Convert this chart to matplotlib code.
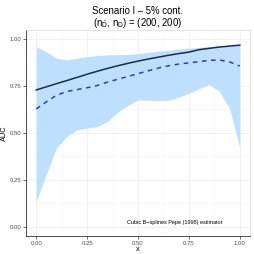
import matplotlib
matplotlib.use("Agg")
import matplotlib.pyplot as plt
import numpy as np

# значения
x_grid = [0.00, 0.05, 0.10, 0.15, 0.20, 0.25, 0.30, 0.35, 0.40, 0.45, 0.50,
          0.55, 0.60, 0.65, 0.70, 0.75, 0.80, 0.85, 0.90, 0.95, 1.00]
auc_true = [0.728, 0.745, 0.762, 0.778, 0.795, 0.812, 0.828, 0.843, 0.857, 0.870, 0.882,
            0.893, 0.903, 0.913, 0.922, 0.930, 0.943, 0.950, 0.957, 0.962, 0.967]
auc_est = [0.627, 0.665, 0.700, 0.720, 0.730, 0.740, 0.752, 0.770, 0.785, 0.800, 0.815,
           0.830, 0.845, 0.857, 0.866, 0.873, 0.879, 0.886, 0.888, 0.878, 0.856]
band_upper = [0.959, 0.932, 0.897, 0.888, 0.897, 0.906, 0.912, 0.915, 0.917, 0.918, 0.922,
              0.928, 0.935, 0.940, 0.946, 0.951, 0.955, 0.960, 0.963, 0.968, 0.972]
band_lower = [0.133, 0.280, 0.420, 0.480, 0.515, 0.525, 0.533, 0.560, 0.610, 0.645, 0.675,
              0.672, 0.671, 0.673, 0.690, 0.710, 0.735, 0.758, 0.720, 0.630, 0.420]
ticks = [0.00, 0.25, 0.50, 0.75, 1.00]
tick_labels = ["0.00", "0.25", "0.50", "0.75", "1.00"]

plt.rcParams["font.family"] = ["Liberation Sans", "DejaVu Sans"]
plt.rcParams["mathtext.default"] = "regular"

fig = plt.figure(figsize=(2.54, 2.54), dpi=100)
ax = fig.add_axes([0.1024, 0.071, 0.8816, 0.8125])

ax.fill_between(x_grid, band_lower, band_upper, color="#BFDFFF", linewidth=0)
ax.plot(x_grid, auc_true, color="#1C2B48", linewidth=1.1)
ax.plot(x_grid, auc_est, color="#2A3EBE", linewidth=1.1, linestyle=(0, (3, 3)))

ax.set_xlim(-0.05, 1.05)
ax.set_ylim(-0.05, 1.05)
ax.set_xticks(ticks)
ax.set_xticklabels(tick_labels)
ax.set_yticks(ticks)
ax.set_yticklabels(tick_labels)
ax.set_xticks([0.125, 0.375, 0.625, 0.875], minor=True)
ax.set_yticks([0.125, 0.375, 0.625, 0.875], minor=True)
ax.tick_params(which="minor", length=0)
ax.tick_params(which="major", labelsize=4.3, length=2, width=0.5, color="#333333",
               labelcolor="#4D4D4D", pad=1.5)
ax.grid(True, which="major", color="#EBEBEB", linewidth=0.5)
ax.grid(True, which="minor", color="#F3F3F3", linewidth=0.4)
ax.set_axisbelow(True)

for side in ["top", "right"]:
    ax.spines[side].set_color("#D9D9D9")
    ax.spines[side].set_linewidth(0.5)
for side in ["left", "bottom"]:
    ax.spines[side].set_color("#333333")
    ax.spines[side].set_linewidth(0.6)

ax.set_xlabel("x", fontsize=5.3, labelpad=0)
ax.set_ylabel("AUC", fontsize=5.3, labelpad=1)

ax.text(0.68, 0.02, "Cubic B\u2212splines Pepe (1998) estimator", fontsize=3.95,
        ha="center", va="center")

fig.text(0.543, 0.955, "Scenario I \u2013 5% cont.", fontsize=6.9, ha="center", va="center")
fig.text(0.543, 0.91, r"($n_{\bar{D}}$, $n_{D}$) = (200, 200)", fontsize=6.9,
         ha="center", va="center")

fig.savefig("out.png", dpi=100)
